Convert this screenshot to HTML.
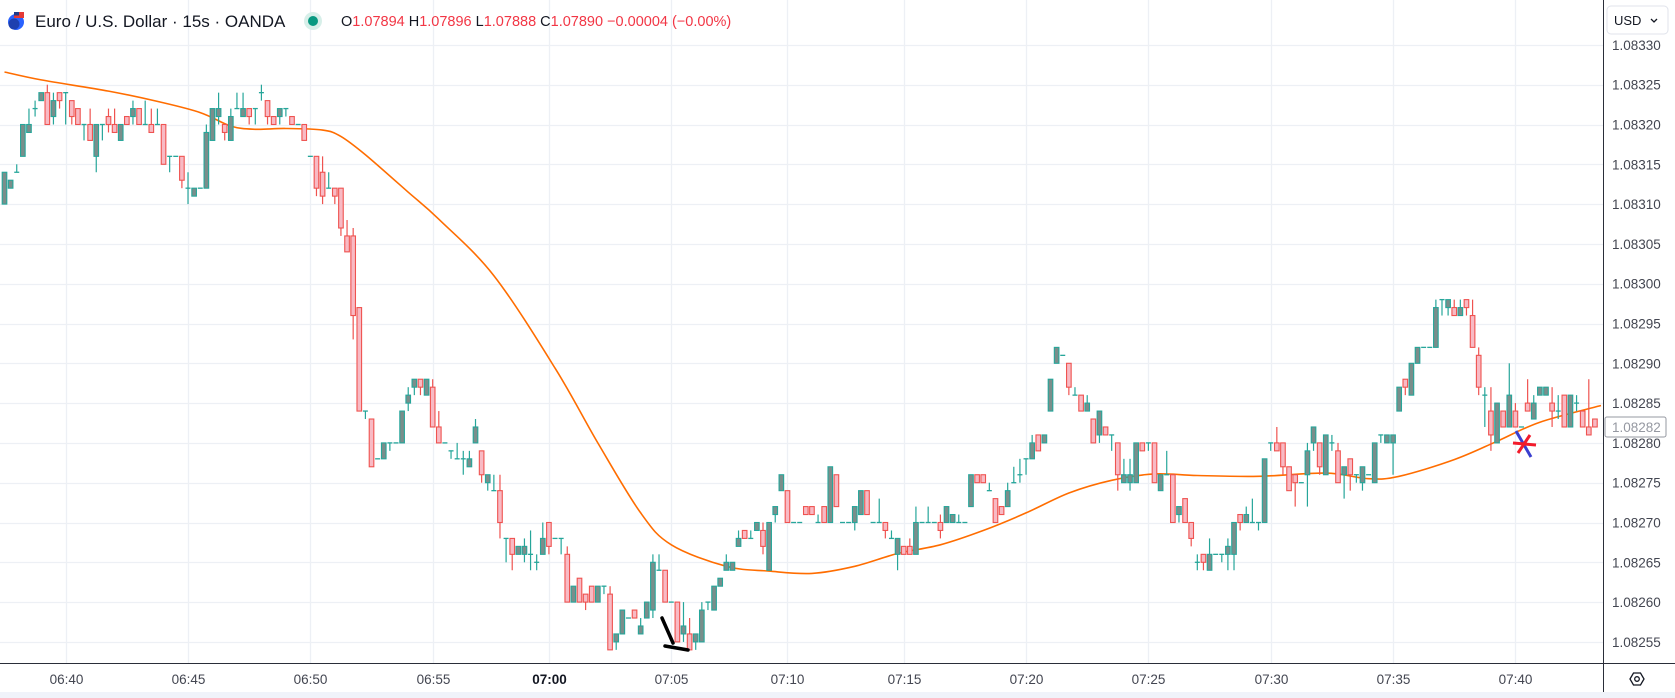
<!DOCTYPE html>
<html><head><meta charset="utf-8">
<style>
html,body{margin:0;padding:0;background:#fff;width:1675px;height:698px;overflow:hidden;font-family:"Liberation Sans",sans-serif;}
svg text{font-family:"Liberation Sans",sans-serif;}
</style></head>
<body>
<svg id="chart" width="1675" height="698" viewBox="0 0 1675 698" xmlns="http://www.w3.org/2000/svg">
<rect x="0" y="0" width="1675" height="698" fill="#ffffff"/>
<g id="grid"></g>
<g id="ma"></g>
<g id="candles"></g>
<g id="ann">
<path d="M662 618 L673 643 M665 646 L688 650" stroke="#000" stroke-width="3.5" fill="none" stroke-linecap="round"/>
<path d="M1516 431 L1531 457" stroke="#3a3fcf" stroke-width="3" fill="none"/>
<path d="M1513 443 L1536 445 M1518 453 L1530 435" stroke="#f21b2b" stroke-width="3" fill="none"/>
</g>
<line x1="1603.5" y1="0" x2="1603.5" y2="698" stroke="#2a2e39" stroke-width="1"/>
<line x1="0" y1="663.5" x2="1675" y2="663.5" stroke="#2a2e39" stroke-width="1"/>
<g id="yaxis"></g>
<g id="xaxis"></g>
<rect x="0" y="692" width="1675" height="6" fill="#f0f3fa"/>
<g>
<circle cx="16" cy="22" r="8" fill="#2962ff"/>
<rect x="14" y="12" width="10" height="6" fill="#e53935"/>
<rect x="14" y="12" width="5" height="3.5" fill="#1e3a8a"/>
<circle cx="14" cy="24" r="5.5" fill="#1e40af"/>
<text x="35" y="27" font-size="17" fill="#131722">Euro / U.S. Dollar · 15s · OANDA</text>
<circle cx="313" cy="21" r="9" fill="#d7efe9"/>
<circle cx="313" cy="21" r="5" fill="#089981"/>
<text x="341" y="26" font-size="14.5" fill="#131722">O<tspan fill="#f23645">1.07894</tspan> H<tspan fill="#f23645">1.07896</tspan> L<tspan fill="#f23645">1.07888</tspan> C<tspan fill="#f23645">1.07890</tspan> <tspan fill="#f23645">−0.00004 (−0.00%)</tspan></text>
</g>
<g id="ylabels-cover"></g>
<g>
<rect x="1607" y="6" width="61" height="28" rx="4" fill="#fff" stroke="#e0e3eb"/>
<text x="1614" y="25" font-size="13" fill="#131722">USD</text>
<path d="M1651 19 L1654 22 L1657 19" stroke="#131722" stroke-width="1.3" fill="none"/>
</g>
<g>
<path d="M1630 679 L1633.5 673 L1640.5 673 L1644 679 L1640.5 685 L1633.5 685 Z" fill="none" stroke="#131722" stroke-width="1.3"/>
<circle cx="1637" cy="679" r="2.3" fill="none" stroke="#131722" stroke-width="1.3"/>
</g>
</svg>
<script>
const opens=[310,312,314,316,319,322,323,324,321,324,324,323,322,320,320,316,320,321,320,318,321,321,322,320,320,320,320,316,316,316,312,311,312,312,318,321,320,318,322,321,322,322,324,323,321,321,322,321,320,320,316,316,314,312,312,312,306,306,297,284,283,278,278,280,280,280,285,287,288,286,287,282,280,279,278,278,277,280,279,275,274,274,268,268,266,266,266,265,266,270,268,268,266,260,263,261,262,260,262,261,255,256,258,259,256,258,259,264,264,260,260,256,256,255,255,260,259,262,264,264,267,269,268,269,269,264,271,274,274,270,270,272,272,270,272,270,276,270,270,270,271,274,270,270,270,268,266,267,267,266,270,270,270,270,270,270,270,270,272,276,276,274,273,272,272,275,276,278,278,281,280,284,290,291,290,286,286,284,283,281,282,281,280,275,275,275,280,280,280,274,276,276,271,273,270,265,266,264,266,266,266,266,271,270,270,270,270,280,280,280,277,276,275,276,280,280,276,280,279,276,278,276,275,276,275,281,280,280,284,288,286,290,292,292,292,298,297,297,296,298,296,291,286,284,280,284,282,284,282,285,283,286,286,285,284,286,282,285,284,282,283];
const highs=[314,313,315,320,322,323,324,325,324,324,324,323,322,320,322,320,320,322,322,320,321,323,322,323,322,322,320,316,316,316,314,312,312,320,322,324,320,322,324,324,322,322,325,323,321,322,322,321,320,320,316,316,316,314,312,312,308,307,297,284,283,278,280,280,280,284,287,288,288,288,288,284,280,279,280,279,279,283,279,276,276,276,268,268,267,268,269,266,270,270,268,268,267,262,263,261,262,262,262,262,256,259,258,259,258,260,266,266,264,260,260,260,258,256,260,260,262,263,266,265,269,269,269,270,270,270,272,276,274,270,270,272,272,271,272,277,276,270,270,272,274,274,270,273,270,269,268,267,268,272,270,272,270,271,272,271,271,270,276,276,276,275,273,272,275,277,278,278,281,281,281,288,292,291,290,287,286,286,283,284,282,281,280,278,278,280,280,280,280,276,279,276,272,273,270,266,266,268,266,266,268,270,271,272,273,270,278,280,282,280,277,276,275,280,282,280,281,281,280,277,278,276,277,276,280,281,281,281,287,288,290,292,292,292,298,298,298,298,298,298,298,292,287,287,285,284,290,285,282,288,286,287,287,287,286,286,286,286,284,288,283];
const lows=[310,312,314,316,319,321,323,320,320,322,320,320,320,318,318,314,318,319,319,318,320,320,320,320,319,320,315,314,316,312,310,311,312,312,318,320,318,318,322,321,320,320,323,320,320,320,321,320,320,318,316,311,310,312,310,306,304,293,284,283,277,278,278,279,280,280,284,286,286,286,282,280,280,278,278,276,277,280,275,274,274,268,265,264,266,265,264,264,266,266,268,266,260,260,260,259,260,260,261,254,254,256,258,258,256,258,258,264,260,260,255,255,254,254,255,259,259,262,264,264,267,268,268,269,266,264,270,274,270,270,270,271,271,270,270,270,272,270,270,269,271,271,270,270,268,268,264,266,266,266,270,270,270,268,270,270,270,270,272,275,275,274,270,271,272,275,275,276,278,279,280,284,290,291,286,286,284,284,280,280,281,279,274,275,274,275,279,279,275,274,276,270,270,270,267,264,264,264,266,265,264,264,269,270,270,269,270,279,279,276,274,272,275,272,279,276,276,279,275,273,274,275,274,276,275,280,280,276,284,286,286,290,292,292,292,296,296,296,296,296,292,286,282,279,280,282,282,282,282,284,283,286,286,282,283,282,282,284,282,281,282];
const closes=[314,313,314,320,320,322,324,320,323,323,324,321,320,320,318,320,320,320,319,320,320,322,320,320,319,320,315,316,316,313,312,312,312,319,322,322,319,321,322,322,321,322,324,321,320,322,322,320,320,318,316,312,311,312,311,307,304,296,284,284,277,278,280,280,280,284,286,288,287,288,282,280,280,279,278,278,278,282,276,276,274,270,268,266,267,267,266,265,268,267,268,268,260,262,260,260,260,262,262,254,256,259,258,258,257,260,265,264,260,260,255,257,254,256,259,260,262,263,265,265,268,268,268,270,267,270,272,276,270,270,270,271,271,270,270,277,272,270,270,272,274,271,270,270,269,268,268,266,266,270,270,270,270,269,272,271,270,270,276,275,275,274,270,271,274,275,276,278,280,279,281,288,292,291,287,286,284,285,280,284,281,281,276,276,276,280,279,280,275,276,276,270,272,270,268,265,265,266,266,266,267,270,270,271,270,270,278,280,279,277,274,275,275,279,282,277,281,280,275,277,276,276,277,276,280,281,281,281,287,287,290,292,292,292,297,298,298,296,297,297,292,287,286,281,285,282,286,282,282,284,285,287,287,284,284,282,286,285,282,281,282];
const maIdx=[0,6,17,25,32,37,41,46,52,55,59,66,71,80,90,97,104,109,118,125,132,139,146,153,160,167,174,181,188,195,205,216,223,228,237,244,251,261];
const maVal=[326.6,325.6,324.2,322.9,321.5,319.8,319.4,319.5,319.3,318.5,316.2,311.5,308.1,301,289.4,280,271.2,267.2,264.5,263.9,263.6,264.5,266.1,267.2,269,271.2,273.7,275.3,276.1,275.9,275.8,276.2,275.5,275.8,277.9,280.2,282.6,284.7];
const priceTicks=[255,260,265,270,275,280,285,290,295,300,305,310,315,320,325,330];
const timeLabels=["06:40","06:45","06:50","06:55","07:00","07:05","07:10","07:15","07:20","07:25","07:30","07:35","07:40"];
const tickIdx=[10,30,50,70,89,109,128,147,167,187,207,227,247];
const lastPrice=282;

const NS="http://www.w3.org/2000/svg";
function xs(i){return 4.5+6.117*i;}
function ys(u){return 44.9+(330-u)*7.96;}
function mk(tag,attrs,parent){const e=document.createElementNS(NS,tag);for(const k in attrs)e.setAttribute(k,attrs[k]);parent.appendChild(e);return e;}
const grid=document.getElementById('grid'),cg=document.getElementById('candles'),mg=document.getElementById('ma'),ya=document.getElementById('yaxis'),xa=document.getElementById('xaxis');
priceTicks.forEach(function(u){
  const y=Math.round(ys(u))+0.5;
  const l=mk('line',{x1:0,y1:y,x2:1603,y2:y,stroke:'#edf0f5','stroke-width':1.3},grid);
  
  
  const t=mk('text',{x:1612,y:ys(u)+5,'font-size':13.5,fill:'#434651'},ya);
  t.textContent='1.08'+u;
  
  
});
timeLabels.forEach(function(lab,k){
  const x=Math.round(xs(tickIdx[k]))+0.5;
  const l=mk('line',{x1:x,y1:0,x2:x,y2:663,stroke:'#edf0f5','stroke-width':1.3},grid);
  
  
  const t=mk('text',{x:x,y:684,'font-size':13.5,fill:'#434651','text-anchor':'middle'},xa);
  if(lab==="07:00"){t.setAttribute('font-weight','bold');t.setAttribute('fill','#131722');}
  t.textContent=lab;
  
  
});
// moving average (smooth Catmull-Rom through read points)
const pts=maIdx.map(function(ix,k){return [xs(ix),ys(maVal[k])];});
let d='M'+pts[0][0].toFixed(1)+' '+pts[0][1].toFixed(1);
for(let k=0;k<pts.length-1;k++){
  const p0=pts[Math.max(0,k-1)],p1=pts[k],p2=pts[k+1],p3=pts[Math.min(pts.length-1,k+2)];
  const c1x=p1[0]+(p2[0]-p0[0])/6,c1y=p1[1]+(p2[1]-p0[1])/6;
  const c2x=p2[0]-(p3[0]-p1[0])/6,c2y=p2[1]-(p3[1]-p1[1])/6;
  d+=' C'+c1x.toFixed(1)+' '+c1y.toFixed(1)+' '+c2x.toFixed(1)+' '+c2y.toFixed(1)+' '+p2[0].toFixed(1)+' '+p2[1].toFixed(1);
}
const mp=mk('path',{d:d,stroke:'#ff6d00','stroke-width':1.6,fill:'none','stroke-linejoin':'round'},mg);


// candles
opens.forEach(function(o,i){
  const c=closes[i],h=highs[i],l=lows[i];
  const up=c>=o;
  const col=up?'#26a69a':'#ef5350';
  const fill=up?'#7a8e8b':'#f8bac4';
  const x=xs(i);
  const g=mk('g',{},cg);
  
  
  mk('line',{x1:x,y1:ys(h),x2:x,y2:ys(l),stroke:col,'stroke-width':1.2},g);
  const top=ys(Math.max(o,c)),bot=ys(Math.min(o,c));
  if(bot-top<1.5){
    mk('line',{x1:x-2.5,y1:top,x2:x+2.5,y2:top,stroke:col,'stroke-width':1.3},g);
  }else{
    mk('rect',{x:x-2.3,y:top,width:4.6,height:bot-top,fill:fill,stroke:col,'stroke-width':1.1},g);
  }
});
// last price label
const pl=mk('g',{},ya);


mk('rect',{x:1605,y:ys(lastPrice)-10,width:61,height:20,rx:2,fill:'#fff',stroke:'#9598a1'},pl);
const pt=mk('text',{x:1612,y:ys(lastPrice)+5,'font-size':13.5,fill:'#9598a1'},pl);
pt.textContent='1.08'+lastPrice;
</script>
</body></html>
